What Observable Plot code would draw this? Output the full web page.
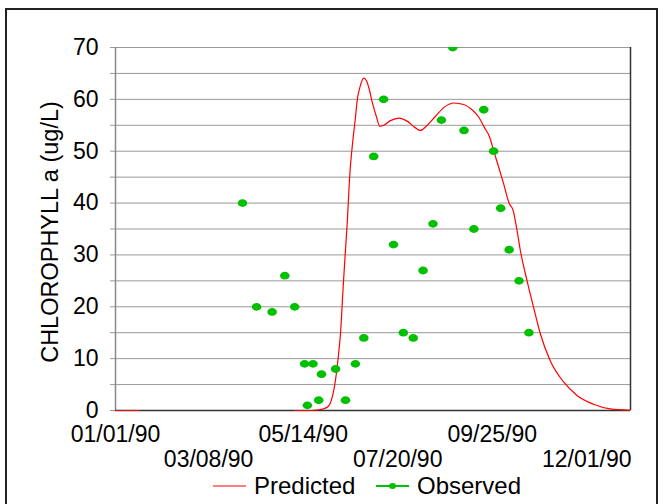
<!DOCTYPE html>
<html>
<head>
<meta charset="utf-8">
<script src="https://cdn.jsdelivr.net/npm/d3@7"></script>
<script src="https://cdn.jsdelivr.net/npm/@observablehq/plot@0.6"></script>
<style>
  html, body { margin: 0; padding: 0; background: #fff; }
  #wrap { position: relative; width: 667px; height: 504px; overflow: hidden; font-family: "Liberation Sans", Arial, sans-serif; color: #000; }
  #frame { position: absolute; left: 5px; top: 8px; width: 653px; height: 520px; border: 2px solid #222; box-sizing: border-box; }
  #chart { position: absolute; left: 0; top: 0; }
  #ylabel { position: absolute; left: 50px; top: 232px; transform: translate(-50%, -50%) rotate(-90deg); white-space: nowrap; font-size: 23.5px; }
  #legend { position: absolute; left: 0; top: 472px; width: 667px; height: 28px; font-size: 24px; }
  #legend .item { position: absolute; top: 0; display: flex; align-items: center; height: 28px; }
</style>
</head>
<body>
<div id="wrap">
  <div id="frame"></div>
  <div id="chart"></div>
  <div id="ylabel">CHLOROPHYLL a (ug/L)</div>
  <div id="legend"></div>
</div>
<script>
// ---- data ----
const startDate = "1990-01-01";
const endDate = "1991-01-01";

// Observed chlorophyll a (day offset from 01/01/90, value ug/L)
const obsDay = [90, 100, 111, 120, 127, 134, 136, 140, 144, 146, 156, 163, 170, 176, 183, 190, 197, 204, 211, 218, 225, 231, 239, 247, 254, 261, 268, 273, 279, 286, 293];
const obsVal = [40, 20, 19, 26, 20, 9, 1, 9, 2, 7, 8, 2, 9, 14, 49, 60, 32, 15, 14, 27, 36, 56, 70, 54, 35, 58, 50, 39, 31, 25, 15];

// Predicted curve (day offset, value); null marks a gap in the series
const predDay = [0, 8, 17, 18, 127, 135, 143, 150, 154.7, 157.6, 159.5, 161.4, 163, 164.2, 166.1, 168.2, 170.1, 171.3, 173.2, 176, 177.9, 179.8, 181.9, 185, 187.3, 190.1, 194.9, 200.8, 206.7, 212.6, 216.1, 220.9, 226.7, 232.6, 239.7, 246.8, 252.7, 257.4, 261.4, 265.2, 268, 271.6, 275.1, 279.1, 281.8, 284.6, 286.9, 291.7, 296.3, 301.1, 308.1, 317.6, 327.1, 338.8, 350.6, 364.8];
const predVal = [0, 0, 0, null, 0, 0, 0.1, 0.6, 3.9, 9.6, 15, 24, 31, 36, 45.6, 52, 56.6, 59.8, 62.3, 64.1, 63.6, 62, 59.5, 56.6, 54.8, 55, 55.9, 56.4, 55.8, 54.5, 54, 55, 56.7, 58.4, 59.3, 59, 58, 56.6, 54.6, 52.7, 50.1, 46.9, 43.7, 39.9, 38.6, 34.7, 30.9, 25, 19.9, 14.8, 9.6, 5.5, 2.9, 1.2, 0.3, 0.05];

// Axis ticks
const xTicksRow1 = ["1990-01-01", "1990-05-14", "1990-09-25"];
const xTicksRow2 = ["1990-03-08", "1990-07-20", "1990-12-01"];
const yGridTicks = [0, 5, 10, 15, 20, 25, 30, 35, 40, 45, 50, 55, 60, 65, 70];
const yLabelTicks = [0, 10, 20, 30, 40, 50, 60, 70];

const seriesNames = ["Predicted", "Observed"];
const seriesColors = ["#ff0000", "#00c000"];

// ---- build ----
const t0 = new Date(startDate + "T00:00:00Z").getTime();
const dayToDate = d => new Date(t0 + d * 864e5);
const toDate = s => new Date(s + "T00:00:00Z");

const observed = obsDay.map((d, i) => ({date: dayToDate(d), value: obsVal[i]}));
const predicted = predDay.map((d, i) => ({date: dayToDate(d), value: predVal[i]}));

const fmt = d3.utcFormat("%m/%d/%y");

// elliptical marker symbol
const ellipse = {
  draw(ctx, size) {
    const rx = 4.8, ry = 3.9, k = 0.5523;
    const kx = rx * k, ky = ry * k;
    ctx.moveTo(rx, 0);
    ctx.bezierCurveTo(rx, ky, kx, ry, 0, ry);
    ctx.bezierCurveTo(-kx, ry, -rx, ky, -rx, 0);
    ctx.bezierCurveTo(-rx, -ky, -kx, -ry, 0, -ry);
    ctx.bezierCurveTo(kx, -ry, rx, -ky, rx, 0);
    ctx.closePath();
  }
};

const chart = Plot.plot({
  width: 667,
  height: 470,
  marginLeft: 115,
  marginRight: 37,
  marginTop: 47,
  marginBottom: 60,
  style: {fontFamily: "'Liberation Sans', Arial, sans-serif", fontSize: "23px", color: "#000", background: "transparent", overflow: "visible"},
  x: {type: "utc", domain: [toDate(startDate), toDate(endDate)]},
  y: {domain: [0, 70]},
  marks: [
    Plot.gridY(yGridTicks, {stroke: "#999", strokeOpacity: 1}),
    Plot.axisY({ticks: yGridTicks, tickSize: 5, tickPadding: 12, stroke: "#999", tickFormat: d => yLabelTicks.includes(d) ? String(d) : "", label: null, fill: "#000"}),
    Plot.axisX({ticks: xTicksRow1.map(toDate), tickSize: 0, tickPadding: 15, tickFormat: fmt, label: null, fill: "#000"}),
    Plot.axisX({ticks: xTicksRow2.map(toDate), tickSize: 0, tickPadding: 40, tickFormat: fmt, label: null, fill: "#000"}),
    Plot.ruleX([toDate(startDate)], {stroke: "#888", strokeWidth: 1.5}),
    Plot.ruleX([toDate(endDate)], {stroke: "#333", strokeWidth: 1.5}),
    Plot.ruleY([0], {stroke: "#333", strokeWidth: 1.5}),
    Plot.line(predicted, {x: "date", y: "value", stroke: seriesColors[0], strokeWidth: 1.2, curve: "monotone-x"}),
    Plot.dot(observed, {x: "date", y: "value", fill: seriesColors[1], stroke: "none", symbol: ellipse, r: 4, clip: true})
  ]
});
document.getElementById("chart").appendChild(chart);

// ---- legend ----
const legend = document.getElementById("legend");
const items = [
  {name: seriesNames[0], color: seriesColors[0], dot: false, left: 212},
  {name: seriesNames[1], color: seriesColors[1], dot: true, left: 375}
];
for (const it of items) {
  const div = document.createElement("div");
  div.className = "item";
  div.style.left = it.left + "px";
  const svg = d3.create("svg").attr("width", 42).attr("height", 28);
  svg.append("line").attr("x1", 1).attr("x2", 34).attr("y1", 14).attr("y2", 14)
    .attr("stroke", it.color).attr("stroke-width", it.dot ? 2 : 1.2);
  if (it.dot) svg.append("ellipse").attr("cx", 17.5).attr("cy", 14).attr("rx", 3.5).attr("ry", 3).attr("fill", it.color);
  div.appendChild(svg.node());
  const span = document.createElement("span");
  span.textContent = it.name;
  div.appendChild(span);
  legend.appendChild(div);
}
</script>
</body>
</html>
